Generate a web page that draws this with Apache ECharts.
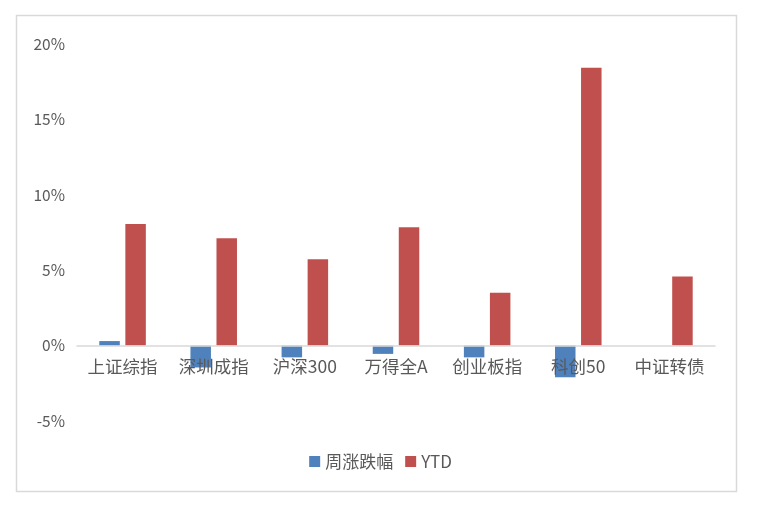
<!DOCTYPE html>
<html><head><meta charset="utf-8">
<script src="https://cdn.jsdelivr.net/npm/echarts@6/dist/echarts.min.js"></script>
<style>html,body{margin:0;padding:0;background:#fff}#c{width:761px;height:507px}</style>
</head><body><div id="c"></div>
<script>
var categories = ['上证综指','深圳成指','沪深300','万得全A','创业板指','科创50','中证转债'];
var weekly = [0.3, -1.45, -0.78, -0.55, -0.78, -2.1, 0];
var ytd = [8.07, 7.12, 5.72, 7.85, 3.5, 18.42, 4.58];
var yTicks = {min: -5, max: 20, interval: 5};
var seriesNames = ['周涨跌幅','YTD'];

var chart = echarts.init(document.getElementById('c'));
var font = '"Noto Sans CJK SC","Noto Sans",sans-serif';
chart.setOption({
  animation: false,
  backgroundColor: '#fff',
  graphic: [{type:'rect', shape:{x:16.5,y:15.5,width:720,height:476}, style:{fill:'none', stroke:'#d9d9d9', lineWidth:1.5}, z:-1}],
  grid: {left: 77, right: 46, top: 44, bottom: 86},
  legend: {
    data: seriesNames, bottom: 32, left: 'center', icon: 'rect', itemWidth: 11, itemHeight: 11, itemGap: 12,
    textStyle: {color:'#595959', fontSize: 17, fontFamily: font}
  },
  xAxis: {
    type: 'category', data: categories, z: 5,
    axisLine: {onZero: true, lineStyle: {color:'#d9d9d9', width: 1.5}},
    axisTick: {show: false},
    axisLabel: {color:'#595959', fontSize: 17.5, fontFamily: font, margin: -63}
  },
  yAxis: {
    type: 'value', min: yTicks.min, max: yTicks.max, interval: yTicks.interval,
    splitLine: {show: false}, axisLine: {show: false}, axisTick: {show: false},
    axisLabel: {formatter: '{value}%', color:'#595959', fontSize: 15.5, fontFamily: font, margin: 12}
  },
  series: [
    {name: seriesNames[0], type:'bar', data: weekly, barWidth: 20.5, barGap: '27%', itemStyle:{color:'#4F81BD'}},
    {name: seriesNames[1], type:'bar', data: ytd, barWidth: 20.5, itemStyle:{color:'#C0504D'}}
  ]
});
</script></body></html>
